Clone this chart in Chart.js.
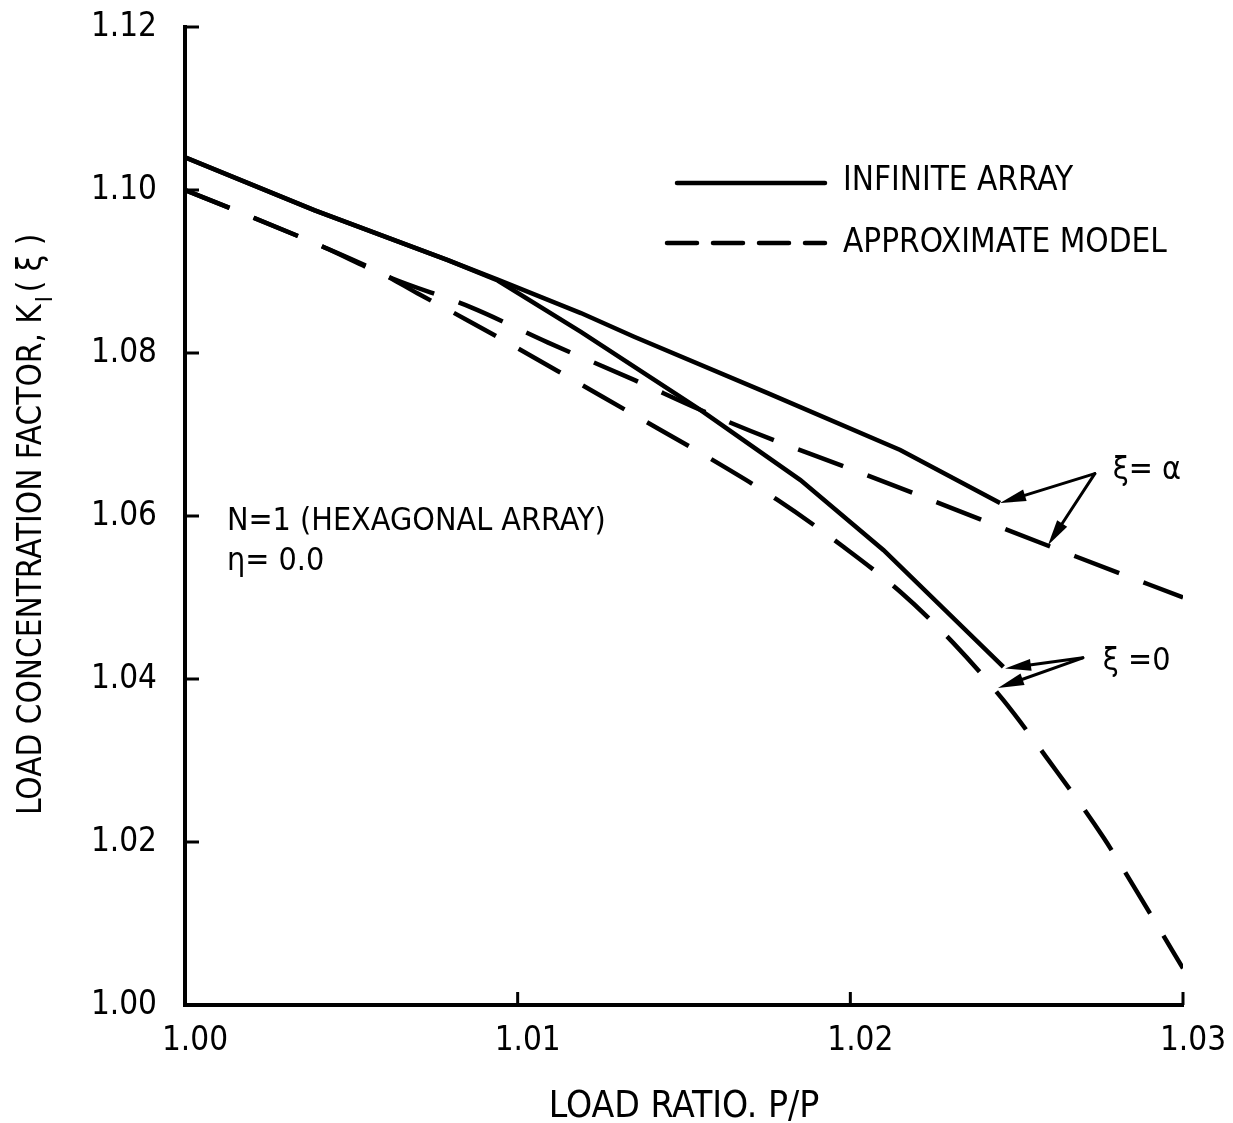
<!DOCTYPE html>
<html>
<head>
<meta charset="utf-8">
<script src="https://cdn.jsdelivr.net/npm/chart.js@4.4.0/dist/chart.umd.min.js"></script>
<style>
body { margin: 0; background: #fff; }
#box { width: 1233px; height: 1123px; }
</style>
</head>
<body>
<div id="box"><canvas id="rel1"></canvas></div>
<script>
// Infinite array, xi = alpha (solid, upper)
var inf_alpha_x = [1.0000, 1.0039, 1.0079, 1.0094, 1.0119, 1.0135, 1.0175, 1.0215, 1.0245];
var inf_alpha_y = [1.1040, 1.0975, 1.0914, 1.0890, 1.0849, 1.0820, 1.0751, 1.0681, 1.0616];

// Infinite array, xi = 0 (solid, lower)
var inf_zero_x = [1.0000, 1.0039, 1.0079, 1.0094, 1.0119, 1.0155, 1.0185, 1.0210, 1.0246];
var inf_zero_y = [1.1040, 1.0975, 1.0914, 1.0889, 1.0826, 1.0730, 1.0644, 1.0558, 1.0415];

// Approximate model, xi = alpha (dashed, upper)
var app_alpha_x = [1.0000, 1.0017, 1.0040, 1.0062, 1.0086, 1.0109, 1.0135, 1.0155, 1.0177, 1.0198, 1.0219, 1.0244, 1.0268, 1.0300];
var app_alpha_y = [1.1000, 1.0972, 1.0933, 1.0892, 1.0856, 1.0813, 1.0767, 1.0730, 1.0693, 1.0661, 1.0628, 1.0588, 1.0550, 1.0500];

// Approximate model, xi = 0 (dashed, lower)
var app_zero_x = [1.0000, 1.0017, 1.0040, 1.0059, 1.0070, 1.0085, 1.0096, 1.0112, 1.0135, 1.0156, 1.0178, 1.0198, 1.0215, 1.0231, 1.0246, 1.0260, 1.0276, 1.0290, 1.0300];
var app_zero_y = [1.1000, 1.0972, 1.0933, 1.0898, 1.0873, 1.0840, 1.0815, 1.0778, 1.0724, 1.0675, 1.0620, 1.0562, 1.0507, 1.0444, 1.0374, 1.0298, 1.0206, 1.0113, 1.0045];

// Axes
var x_ticks_list = [1.00, 1.01, 1.02, 1.03];
var x_labels_list = ['1.00', '1.01', '1.02', '1.03'];
var y_ticks_list = [1.00, 1.02, 1.04, 1.06, 1.08, 1.10, 1.12];
var y_labels_list = ['1.00', '1.02', '1.04', '1.06', '1.08', '1.10', '1.12'];

var legend_list = ['INFINITE ARRAY', 'APPROXIMATE MODEL'];

var font_name = "'Liberation Sans Narrow', 'DejaVu Sans Condensed', 'Liberation Sans', sans-serif";

function pairs(xs, ys) {
	return xs.map(function (x, i) { return { x: x, y: ys[i] }; });
}

function label_for(value, ticks, labels) {
	for (var i = 0; i < ticks.length; i++) {
		if (Math.abs(ticks[i] - value) < 1e-6) return labels[i];
	}
	return '';
}

function arrow(ctx, x1, y1, x2, y2) {
	var ang = Math.atan2(y2 - y1, x2 - x1);
	var len = 26, half = 6;
	ctx.beginPath();
	ctx.moveTo(x1, y1);
	ctx.lineTo(x2 - Math.cos(ang) * len * 0.6, y2 - Math.sin(ang) * len * 0.6);
	ctx.lineWidth = 3;
	ctx.stroke();
	ctx.beginPath();
	ctx.moveTo(x2, y2);
	ctx.lineTo(x2 - Math.cos(ang) * len - Math.sin(ang) * half, y2 - Math.sin(ang) * len + Math.cos(ang) * half);
	ctx.lineTo(x2 - Math.cos(ang) * len + Math.sin(ang) * half, y2 - Math.sin(ang) * len - Math.cos(ang) * half);
	ctx.closePath();
	ctx.fill();
}

// inward ticks, legend, notes, y title
var extras = {
	id: 'extras',
	afterDraw: function (chart) {
		var ctx = chart.ctx;
		var xs = chart.scales.x, ys = chart.scales.y;
		var area = chart.chartArea;
		ctx.save();
		ctx.strokeStyle = '#000';
		ctx.fillStyle = '#000';
		ctx.lineCap = 'butt';

		// ticks pointing into the plot
		ctx.lineWidth = 3;
		x_ticks_list.forEach(function (v) {
			var px = xs.getPixelForValue(v);
			ctx.beginPath(); ctx.moveTo(px, area.bottom); ctx.lineTo(px, area.bottom - 13); ctx.stroke();
		});
		y_ticks_list.forEach(function (v) {
			var py = ys.getPixelForValue(v);
			ctx.beginPath(); ctx.moveTo(area.left, py); ctx.lineTo(area.left + 14, py); ctx.stroke();
		});

		// legend
		ctx.lineWidth = 4.5;
		ctx.lineCap = 'round';
		ctx.beginPath(); ctx.moveTo(677, 183); ctx.lineTo(825, 183); ctx.stroke();
		ctx.setLineDash([30, 16]);
		ctx.beginPath(); ctx.moveTo(667, 243); ctx.lineTo(825, 243); ctx.stroke();
		ctx.setLineDash([]);
		ctx.font = '33px ' + font_name;
		ctx.textBaseline = 'middle';
		ctx.textAlign = 'left';
		ctx.fillText(legend_list[0], 843, 181);
		ctx.fillText(legend_list[1], 843, 243);

		// notes
		ctx.font = '32px ' + font_name;
		ctx.fillText('N=1 (HEXAGONAL ARRAY)', xs.getPixelForValue(1.00126), ys.getPixelForValue(1.0593));
		ctx.fillText('\u03B7= 0.0', xs.getPixelForValue(1.00126), ys.getPixelForValue(1.0544));
		ctx.fillText('\u03BE= \u03B1', xs.getPixelForValue(1.02789), ys.getPixelForValue(1.0656));
		ctx.fillText('\u03BE =0', xs.getPixelForValue(1.02759), ys.getPixelForValue(1.0421));

		// arrows
		ctx.lineCap = 'round';
		var a0x = xs.getPixelForValue(1.02735), a0y = ys.getPixelForValue(1.0652);
		arrow(ctx, a0x, a0y, xs.getPixelForValue(1.0245), ys.getPixelForValue(1.0616));
		arrow(ctx, a0x, a0y, xs.getPixelForValue(1.02594), ys.getPixelForValue(1.0564));
		var b0x = xs.getPixelForValue(1.02699), b0y = ys.getPixelForValue(1.0426);
		arrow(ctx, b0x, b0y, xs.getPixelForValue(1.02465), ys.getPixelForValue(1.0413));
		arrow(ctx, b0x, b0y, xs.getPixelForValue(1.02444), ys.getPixelForValue(1.0389));

		// y axis title with subscript
		ctx.translate(32, 815);
		ctx.rotate(-Math.PI / 2);
		ctx.font = '33px ' + font_name;
		var main = 'LOAD CONCENTRATION FACTOR, K';
		var w1 = ctx.measureText(main).width;
		ctx.fillText(main, 0, 0);
		ctx.font = '23px ' + font_name;
		ctx.fillText('I', w1 + 2, 14);
		var w2 = ctx.measureText('I').width;
		ctx.font = '33px ' + font_name;
		ctx.fillText('( \u03BE )', w1 + w2 + 6, 0);
		ctx.restore();
	}
};

Chart.defaults.font.family = font_name;
Chart.defaults.color = '#000';

var rel1 = new Chart(document.getElementById('rel1'), {
	type: 'line',
	data: {
		datasets: [{
			label: 'Infinite array, xi = alpha',
			data: pairs(inf_alpha_x, inf_alpha_y),
			borderColor: '#000',
			borderWidth: 4.5,
			pointRadius: 0,
			tension: 0,
			fill: false
		},
		{
			label: 'Infinite array, xi = 0',
			data: pairs(inf_zero_x, inf_zero_y),
			borderColor: '#000',
			borderWidth: 4.5,
			pointRadius: 0,
			tension: 0,
			fill: false
		},
		{
			label: 'Approximate model, xi = alpha',
			data: pairs(app_alpha_x, app_alpha_y),
			borderColor: '#000',
			borderWidth: 4.5,
			borderDash: [48, 26],
			pointRadius: 0,
			cubicInterpolationMode: 'monotone',
			fill: false
		},
		{
			label: 'Approximate model, xi = 0',
			data: pairs(app_zero_x, app_zero_y),
			borderColor: '#000',
			borderWidth: 4.5,
			borderDash: [48, 26],
			pointRadius: 0,
			cubicInterpolationMode: 'monotone',
			fill: false
		}]
	},
	options: {
		responsive: true,
		maintainAspectRatio: false,
		animation: false,
		layout: { padding: 0 },
		plugins: {
			legend: { display: false },
			tooltip: { enabled: false }
		},
		scales: {
			x: {
				type: 'linear',
				min: 1.00,
				max: 1.03,
				afterBuildTicks: function (scale) {
					scale.ticks = x_ticks_list.map(function (v) { return { value: v }; });
				},
				afterFit: function (scale) {
					scale.height = 118;
					scale.paddingLeft = 0;
					scale.paddingRight = 50;
				},
				grid: { display: false, drawTicks: false },
				border: { display: true, color: '#000', width: 4 },
				ticks: {
					padding: 17,
					labelOffset: 10,
					maxRotation: 0,
					font: { size: 33 },
					callback: function (v) { return label_for(v, x_ticks_list, x_labels_list); }
				},
				title: {
					display: true,
					text: 'LOAD RATIO. P/P',
					font: { size: 37, lineHeight: 1 },
					padding: { top: 0, bottom: -3 }
				}
			},
			y: {
				type: 'linear',
				min: 1.00,
				max: 1.12,
				afterBuildTicks: function (scale) {
					scale.ticks = y_ticks_list.map(function (v) { return { value: v }; });
				},
				afterFit: function (scale) {
					scale.width = 185;
					scale.paddingTop = 27;
					scale.paddingBottom = 0;
				},
				grid: { display: false, drawTicks: false },
				border: { display: true, color: '#000', width: 4 },
				ticks: {
					padding: 28,
					font: { size: 33 },
					callback: function (v) { return label_for(v, y_ticks_list, y_labels_list); }
				}
			}
		}
	},
	plugins: [extras]
});
</script>
</body>
</html>
